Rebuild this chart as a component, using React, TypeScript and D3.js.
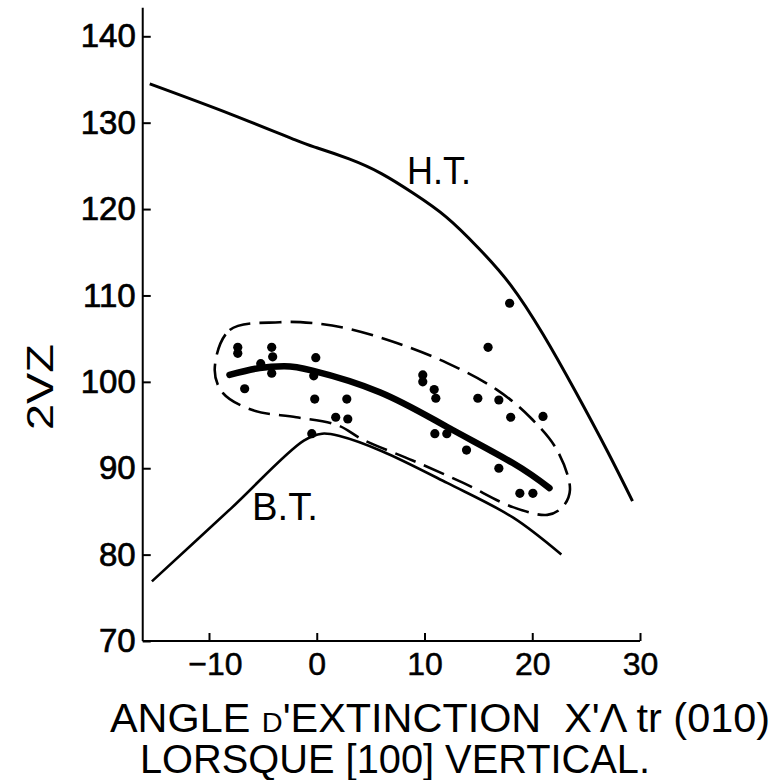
import * as d3 from "d3";
import { useEffect, useRef } from "react";

// H.T. (high temperature) curve
const htX = [-15.5, -8, -2, 0, 3, 6, 9, 12, 15, 18, 21, 24, 27, 29.3];
const htY = [134.5, 131.0, 128.0, 127.1, 125.8, 124.1, 121.8, 119.1, 115.5, 111.2, 105.5, 98.9, 91.9, 86.2];

// B.T. (low temperature) curve
const btX = [-15.3, -8, -1.2, 0.5, 2.2, 6, 12.1, 18.2, 22.7];
const btY = [76.9, 85.3, 93.2, 94.0, 93.7, 92.0, 88.3, 84.3, 80.0];

// thick mean curve through the points
const medX = [-8.1, -5.3, -3, -0.4, 5.85, 12.07, 18.2, 21.6];
const medY = [100.8, 101.6, 101.8, 101.3, 98.8, 94.8, 90.6, 87.7];

// dashed envelope (closed)
const envX = [-9.47, -8.08, -3.44, -0.37, 2.79, 7.43, 12.07, 16.7, 19.8, 22.3, 23.5, 22.8, 21.4, 18.2, 13.6, 8.9, 4.3, 1.9, -1.9, -5.9, -8.7];
const envY = [101.4, 106.0, 106.9, 106.8, 106.2, 104.5, 102.2, 99.1, 95.9, 92.1, 87.5, 85.5, 84.6, 85.5, 88.3, 90.9, 93.3, 95.0, 95.9, 96.7, 98.7];

// measured points
const ptX = [-7.33, -7.33, -4.18, -4.09, -0.09, -5.2, -4.18, -0.28, -6.69, -0.19, 2.79, 1.76, 2.88, -0.46,
  17.9, 15.9, 9.84, 9.84, 10.9, 11.05, 14.95, 16.9, 18.0, 21.0, 10.96, 12.07, 13.9, 16.9, 18.85, 20.06];
const ptY = [104.0, 103.3, 104.0, 102.9, 102.8, 102.1, 101.0, 100.7, 99.2, 98.0, 98.0, 95.9, 95.7, 94.0,
  109.1, 104.0, 100.8, 100.0, 99.1, 98.1, 98.1, 97.9, 95.9, 96.0, 94.0, 94.0, 92.1, 90.0, 87.1, 87.1];

const xTicks = [-10, 0, 10, 20, 30];
const yTicks = [70, 80, 90, 100, 110, 120, 130, 140];

const font = "'Liberation Sans', Arial, sans-serif";

export default function App() {
  const ref = useRef<SVGSVGElement>(null);
  const width = 776;
  const height = 780;

  useEffect(() => {
    const svg = d3.select(ref.current);
    svg.selectAll("*").remove();

    const x = d3.scaleLinear().domain([-10, 30]).range([209, 640]);
    const y = d3.scaleLinear().domain([70, 140]).range([641, 36.3]);
    const xMin = -16.15;
    const yTop = 143.3;

    const zip = (xs: number[], ys: number[]) => xs.map((v, i) => [v, ys[i]] as [number, number]);
    const line = (curve: d3.CurveFactory) =>
      d3
        .line<[number, number]>()
        .x((d) => x(d[0]))
        .y((d) => y(d[1]))
        .curve(curve);

    // axes
    const g = svg.append("g");
    g.append("line")
      .attr("x1", x(xMin)).attr("x2", x(xMin))
      .attr("y1", y(yTop)).attr("y2", y(70))
      .attr("stroke", "#000").attr("stroke-width", 2);
    g.append("line")
      .attr("x1", x(xMin)).attr("x2", x(30))
      .attr("y1", y(70)).attr("y2", y(70))
      .attr("stroke", "#000").attr("stroke-width", 2);

    const yAxis = svg
      .append("g")
      .attr("transform", `translate(${x(xMin)},0)`)
      .call(
        d3.axisLeft(y).tickValues(yTicks).tickSizeInner(-8).tickSizeOuter(0).tickPadding(7).tickFormat(d3.format("d"))
      );
    yAxis.select(".domain").remove();
    yAxis.selectAll("line").attr("stroke-width", 2);
    yAxis.selectAll("text").attr("font-size", 33).attr("font-family", font).attr("fill", "#000")
      .attr("stroke", "#000").attr("stroke-width", 0.7);

    const xAxis = svg
      .append("g")
      .attr("transform", `translate(0,${y(70)})`)
      .call(
        d3.axisBottom(x).tickValues(xTicks).tickSizeInner(-8).tickSizeOuter(0).tickPadding(11).tickFormat(d3.format("d"))
      );
    xAxis.select(".domain").remove();
    xAxis.selectAll("line").attr("stroke-width", 2);
    xAxis
      .selectAll<SVGTextElement, number>("text")
      .attr("font-size", 32)
      .attr("font-family", font)
      .attr("fill", "#000")
      .attr("stroke", "#000")
      .attr("stroke-width", 0.5)
      .attr("dx", (d) => (d < 0 ? 6 : 0));

    // curves
    svg.append("path").attr("d", line(d3.curveNatural)(zip(htX, htY)))
      .attr("fill", "none").attr("stroke", "#000").attr("stroke-width", 3);
    svg.append("path").attr("d", line(d3.curveCatmullRom.alpha(0.5))(zip(btX, btY)))
      .attr("fill", "none").attr("stroke", "#000").attr("stroke-width", 2.6);
    svg
      .append("path")
      .attr("d", line(d3.curveCatmullRomClosed.alpha(0.5))(zip(envX, envY)))
      .attr("fill", "none")
      .attr("stroke", "#000")
      .attr("stroke-width", 2.6)
      .attr("stroke-dasharray", "22,9");
    svg
      .append("path")
      .attr("d", line(d3.curveNatural)(zip(medX, medY)))
      .attr("fill", "none")
      .attr("stroke", "#000")
      .attr("stroke-width", 6.5)
      .attr("stroke-linecap", "round");

    svg
      .append("g")
      .selectAll("circle")
      .data(zip(ptX, ptY))
      .join("circle")
      .attr("cx", (d) => x(d[0]))
      .attr("cy", (d) => y(d[1]))
      .attr("r", 4.6)
      .attr("fill", "#000");

    // curve labels
    svg.append("text").attr("x", 407).attr("y", 184).attr("font-family", font).attr("font-size", 38)
      .attr("textLength", 64).attr("lengthAdjust", "spacingAndGlyphs").text("H.T.");
    svg.append("text").attr("x", 252).attr("y", 520).attr("font-family", font).attr("font-size", 38)
      .attr("textLength", 66).attr("lengthAdjust", "spacingAndGlyphs").text("B.T.");

    // axis titles
    svg.append("text")
      .attr("transform", "translate(53,387) rotate(-90)")
      .attr("text-anchor", "middle")
      .attr("font-family", font)
      .attr("font-size", 36)
      .attr("textLength", 86)
      .attr("lengthAdjust", "spacingAndGlyphs")
      .text("2VZ");

    const t1 = svg.append("text")
      .attr("x", 110).attr("y", 732)
      .attr("font-family", font).attr("font-size", 40)
      .attr("textLength", 660).attr("lengthAdjust", "spacingAndGlyphs")
      .style("white-space", "pre");
    t1.append("tspan").text("ANGLE ");
    t1.append("tspan").attr("font-size", 28).text("D");
    t1.append("tspan").text("'EXTINCTION  X'Λ tr (010)");

    svg.append("text")
      .attr("x", 140).attr("y", 773)
      .attr("font-family", font).attr("font-size", 40)
      .attr("textLength", 510).attr("lengthAdjust", "spacingAndGlyphs")
      .text("LORSQUE [100] VERTICAL.");
  }, []);

  return (
    <svg
      ref={ref}
      width={width}
      height={height}
      style={{ position: "absolute", left: 0, top: 0, background: "#fff" }}
    ></svg>
  );
}
